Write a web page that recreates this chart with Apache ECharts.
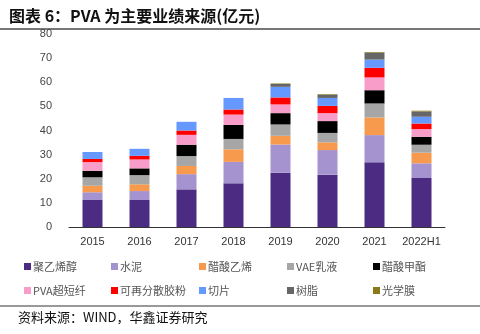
<!DOCTYPE html>
<html><head><meta charset="utf-8">
<script src="https://cdn.jsdelivr.net/npm/echarts@6/dist/echarts.min.js"></script>
<style>html,body{margin:0;padding:0;background:#fff}#c{width:480px;height:334px}</style>
</head><body><div id="c"></div>
<script>
const categories = ['2015','2016','2017','2018','2019','2020','2021','2022H1'];
const pva = [11.2, 11.2, 15.6, 18.1, 22.5, 21.7, 26.8, 20.3];
const cement = [3.2, 3.7, 6.3, 8.9, 11.7, 10.2, 11.3, 6.1];
const vac = [2.7, 2.8, 3.4, 5.2, 3.6, 3.2, 7.3, 4.4];
const vae = [3.5, 3.8, 4.1, 4.3, 4.7, 3.9, 5.8, 3.3];
const methylAcetate = [2.7, 2.8, 4.7, 5.8, 4.7, 4.9, 5.5, 3.3];
const pvaFiber = [3.6, 3.7, 4.1, 4.3, 3.6, 3.3, 5.3, 3.2];
const powder = [1.3, 1.5, 1.8, 2.1, 2.9, 3.0, 4.0, 2.3];
const chips = [2.9, 2.9, 3.6, 4.8, 4.4, 3.3, 3.4, 2.8];
const resin = [0, 0, 0, 0, 1.2, 1.4, 2.8, 2.2];
const film = [0, 0, 0, 0, 0.2, 0.2, 0.3, 0.3];
const yTicks = [0, 10, 20, 30, 40, 50, 60, 70, 80];

const seriesNames = ['聚乙烯醇','水泥','醋酸乙烯','VAE乳液','醋酸甲酯','PVA超短纤','可再分散胶粉','切片','树脂','光学膜'];
const seriesData = [pva, cement, vac, vae, methylAcetate, pvaFiber, powder, chips, resin, film];
const colors = ['#4B2C82','#A593CF','#F79A4D','#A6A6A6','#000000','#F89CC9','#FF0000','#6699FF','#666666','#8B7A1A'];

const legendPos = [[24,261],[111,261],[199,261],[287,261],[373,261],
                   [24,285],[111,285],[199,285],[287,285],[373,285]];

const chart = echarts.init(document.getElementById('c'), null, {renderer:'canvas'});
chart.setOption({
  animation: false,
  color: colors,
  title: {
    text: '图表 6：PVA 为主要业绩来源(亿元)',
    left: 4, top: 3,
    textStyle: {fontSize: 16, fontWeight: 'bold', color: '#111', fontFamily: 'Noto Sans CJK SC'}
  },
  graphic: [
    {type:'line', shape:{x1:0, y1:29, x2:480, y2:29}, style:{stroke:'#777', lineWidth:2}},
    {type:'line', shape:{x1:0, y1:306, x2:480, y2:306}, style:{stroke:'#777', lineWidth:1.5}},
    {type:'text', left: 18, top: 311, style:{text:'资料来源：WIND，华鑫证券研究', fontSize: 13, fill:'#111', fontFamily:'Noto Sans CJK SC'}}
  ],
  legend: seriesNames.map((n, i) => ({
    data: [n], left: legendPos[i][0], top: legendPos[i][1],
    icon: 'rect', itemWidth: 7, itemHeight: 7, itemGap: 2, padding: 0,
    textStyle: {fontSize: 11, color: '#555', fontFamily: 'Noto Sans CJK SC', padding: [0,0,0,-3]}
  })),
  grid: {left: 69, right: 35, top: 34, bottom: 107},
  xAxis: {
    type: 'category', data: categories,
    axisLine: {lineStyle: {color: '#333', width: 1}},
    axisTick: {inside: true, length: 5, lineStyle: {color: '#333'}},
    axisLabel: {interval: 0, fontSize: 11, color: '#333', margin: 9, fontFamily: 'Liberation Sans'}
  },
  yAxis: {
    type: 'value', min: yTicks[0], max: yTicks[yTicks.length-1], interval: 10,
    axisLine: {show: false}, axisTick: {show: false}, splitLine: {show: false},
    axisLabel: {fontSize: 11, color: '#444', margin: 17, fontFamily: 'Liberation Sans'}
  },
  series: seriesNames.map((n, i) => ({
    name: n, type: 'bar', stack: 'total', barWidth: 20,
    data: seriesData[i], itemStyle: {color: colors[i]}
  }))
});
</script></body></html>
